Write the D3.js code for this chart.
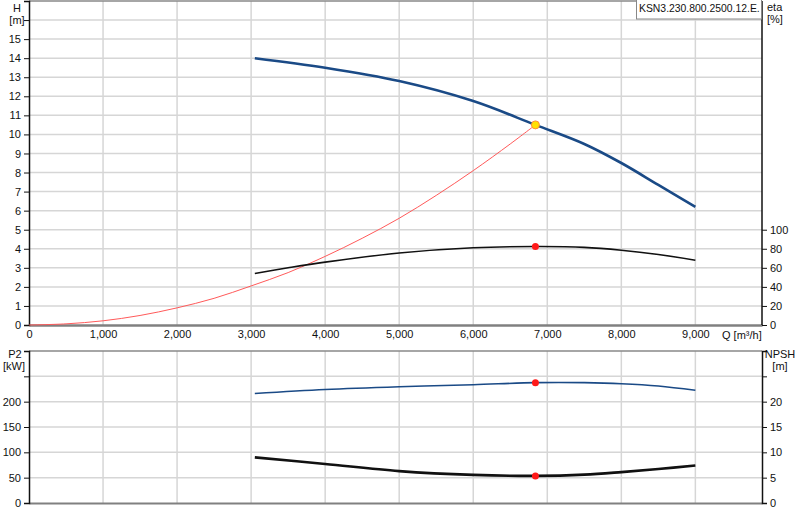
<!DOCTYPE html>
<html>
<head>
<meta charset="utf-8">
<script src="https://cdn.jsdelivr.net/npm/d3@7"></script>
<style>
  body { margin: 0; background: #fff; }
  svg text { font-family: "Liberation Sans", Arial, sans-serif; font-size: 11px; fill: #111; }
</style>
</head>
<body>
<script>
// curve data (Q in m3/h)
var headQ = [3050, 4000, 5000, 6000, 6840, 7500, 8000, 8500, 9000];
var headH = [14.0, 13.5, 12.8, 11.75, 10.5, 9.5, 8.5, 7.35, 6.2];

var sysQ = [0, 500, 1000, 1500, 2000, 2500, 3000, 3500, 4000, 4500, 5000, 5500, 6000, 6500, 6840];
var sysH = [0, 0.06, 0.22, 0.5, 0.9, 1.4, 2.05, 2.75, 3.6, 4.55, 5.6, 6.8, 8.1, 9.5, 10.5];

var etaQ = [3050, 3500, 4000, 5000, 6000, 6840, 7500, 8000, 8500, 9000];
var etaV = [54, 60, 66, 75.5, 81, 82.3, 81.5, 78.5, 74, 68];

var p2Q = [3050, 4000, 5000, 6000, 6840, 7500, 8000, 8500, 9000];
var p2V = [216, 224, 229.5, 233.5, 237.5, 237.5, 235.5, 231, 222.5];

var npshQ = [3050, 4000, 5000, 6000, 6840, 7500, 8000, 8500, 9000];
var npshV = [9.0, 7.7, 6.3, 5.55, 5.35, 5.6, 6.1, 6.7, 7.4];

var duty = { q: 6840, h: 10.5, eta: 82.3, p2: 237.5, npsh: 5.35 };

var qTicks = [0, 1000, 2000, 3000, 4000, 5000, 6000, 7000, 8000, 9000];
var hTicks = [0, 1, 2, 3, 4, 5, 6, 7, 8, 9, 10, 11, 12, 13, 14, 15, 16];
var etaTicks = [0, 20, 40, 60, 80, 100];
var p2Ticks = [0, 50, 100, 150, 200, 250];
var npshTicks = [0, 5, 10, 15, 20, 25];

var title = 'KSN3.230.800.2500.12.E.';

var svg = d3.select('body').append('svg')
    .attr('width', 800).attr('height', 520);

var left = 29, right = 762;
var x = d3.scaleLinear().domain([0, 9900]).range([left, right]);

// upper chart: 1 m of head = 20 % of eta
var yH = d3.scaleLinear().domain([0, 17]).range([325, 1]);
var yEta = d3.scaleLinear().domain([0, 340]).range([325, 1]);
// lower chart: 10 kW = 1 m NPSH
var yP2 = d3.scaleLinear().domain([0, 300]).range([503, 351]);
var yNpsh = d3.scaleLinear().domain([0, 30]).range([503, 351]);

var gridColor = '#d6d6d6';

function grid(yScale, ticks, top, bottom) {
    svg.append('g').selectAll('line.h').data(ticks.filter(function (d) { return d > 0; }))
        .enter().append('line')
        .attr('x1', left).attr('x2', right)
        .attr('y1', function (d) { return yScale(d); }).attr('y2', function (d) { return yScale(d); })
        .attr('stroke', gridColor).attr('stroke-width', 1.5);
    svg.append('g').selectAll('line.v').data(qTicks.filter(function (d) { return d > 0; }))
        .enter().append('line')
        .attr('x1', function (d) { return x(d); }).attr('x2', function (d) { return x(d); })
        .attr('y1', top).attr('y2', bottom)
        .attr('stroke', gridColor).attr('stroke-width', 1.5);
    // top border
    svg.append('line').attr('x1', left).attr('x2', right).attr('y1', top).attr('y2', top)
        .attr('stroke', '#888').attr('stroke-width', 1.5);
}

grid(yH, hTicks, 1, 325);
grid(yP2, p2Ticks, 351, 503);

function styleAxis(g, color) {
    g.selectAll('path').attr('stroke', color).attr('stroke-width', 1.5);
    g.selectAll('line').attr('stroke', color);
    g.selectAll('text').style('font-family', '"Liberation Sans", Arial, sans-serif').style('font-size', '11px').attr('fill', '#111');
}

// upper axes
var gx = svg.append('g').attr('transform', 'translate(0,325)')
    .call(d3.axisBottom(x).tickValues(qTicks).tickSize(0).tickPadding(5).tickFormat(d3.format(',')));
styleAxis(gx, '#808080');
gx.select('path').attr('stroke-width', 2.5);

var gH = svg.append('g').attr('transform', 'translate(' + left + ',0)')
    .call(d3.axisLeft(yH).tickValues(hTicks).tickSize(5).tickPadding(3)
        .tickFormat(function (d) { return d === 16 ? '' : d; }));
styleAxis(gH, '#111');

var gEta = svg.append('g').attr('transform', 'translate(' + right + ',0)')
    .call(d3.axisRight(yEta).tickValues(etaTicks).tickSize(5).tickPadding(3));
styleAxis(gEta, '#111');
gEta.select('path').attr('d', 'M0,1V325');

// lower axes
var gxb = svg.append('g').attr('transform', 'translate(0,503)')
    .call(d3.axisBottom(x).tickValues([]).tickSize(0));
styleAxis(gxb, '#808080');
gxb.select('path').attr('stroke-width', 2);

var gP2 = svg.append('g').attr('transform', 'translate(' + left + ',0)')
    .call(d3.axisLeft(yP2).tickValues(p2Ticks).tickSize(5).tickPadding(3)
        .tickFormat(function (d) { return d === 250 ? '' : d; }));
styleAxis(gP2, '#111');

var gN = svg.append('g').attr('transform', 'translate(' + right + ',0)')
    .call(d3.axisRight(yNpsh).tickValues(npshTicks).tickSize(5).tickPadding(3)
        .tickFormat(function (d) { return d === 25 ? '' : d; }));
styleAxis(gN, '#111');

// axis titles
svg.append('text').attr('x', 17).attr('y', 12).attr('text-anchor', 'middle').text('H');
svg.append('text').attr('x', 17).attr('y', 24).attr('text-anchor', 'middle').text('[m]');
svg.append('text').attr('x', 767).attr('y', 11).text('eta');
svg.append('text').attr('x', 767).attr('y', 23).text('[%]');
svg.append('text').attr('x', 722).attr('y', 339).text('Q [m\u00b3/h]');
svg.append('text').attr('x', 15).attr('y', 358).attr('text-anchor', 'middle').text('P2');
svg.append('text').attr('x', 14).attr('y', 370).attr('text-anchor', 'middle').text('[kW]');
svg.append('text').attr('x', 780).attr('y', 358).attr('text-anchor', 'middle').text('NPSH');
svg.append('text').attr('x', 780).attr('y', 370).attr('text-anchor', 'middle').text('[m]');

// title box
svg.append('rect').attr('x', 636.5).attr('y', -1).attr('width', 125).attr('height', 20)
    .attr('fill', '#fff').attr('stroke', '#888');
svg.append('text').attr('x', 639).attr('y', 12).style('font-size', '10.4px').text(title);

function pts(qs, vs) { return qs.map(function (q, i) { return [q, vs[i]]; }); }

function drawCurve(data, yScale, color, width) {
    var line = d3.line()
        .x(function (d) { return x(d[0]); })
        .y(function (d) { return yScale(d[1]); })
        .curve(d3.curveCatmullRom);
    svg.append('path').datum(data).attr('d', line)
        .attr('fill', 'none').attr('stroke', color).attr('stroke-width', width);
}

drawCurve(pts(sysQ, sysH), yH, '#ff5a5a', 1);
drawCurve(pts(etaQ, etaV), yEta, '#111', 1.6);
drawCurve(pts(headQ, headH), yH, '#1a4a86', 2.6);
drawCurve(pts(p2Q, p2V), yP2, '#1a4a86', 1.6);
drawCurve(pts(npshQ, npshV), yNpsh, '#111', 2.6);

// duty points
svg.append('circle').attr('cx', x(duty.q)).attr('cy', yEta(duty.eta)).attr('r', 3.5).attr('fill', '#ff1a1a');
svg.append('circle').attr('cx', x(duty.q)).attr('cy', yP2(duty.p2)).attr('r', 3.5).attr('fill', '#ff1a1a');
svg.append('circle').attr('cx', x(duty.q)).attr('cy', yNpsh(duty.npsh)).attr('r', 3.5).attr('fill', '#ff1a1a');
svg.append('circle').attr('cx', x(duty.q)).attr('cy', yH(duty.h)).attr('r', 4)
    .attr('fill', '#ffe100').attr('stroke', '#ff8c3a').attr('stroke-width', 1);
</script>
</body>
</html>
